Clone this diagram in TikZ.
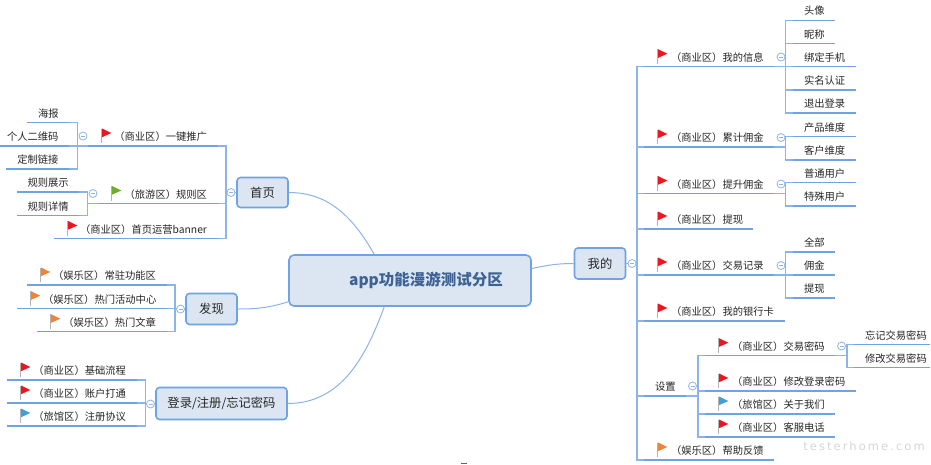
\documentclass[tikz,border=0pt]{standalone}
\usepackage{fontspec}
\setmainfont{Noto Sans CJK SC}
\newfontfamily\wmfont[LetterSpace=18]{DejaVu Sans}
\definecolor{lineblue}{HTML}{6FA3E4}
\definecolor{connblue}{HTML}{8DB4E8}
\definecolor{boxfill}{HTML}{DCE6F2}
\definecolor{rootink}{HTML}{3D6293}
\definecolor{ink}{HTML}{262626}
\definecolor{fred}{HTML}{F0141E}
\definecolor{fgreen}{HTML}{6CAE2A}
\definecolor{forange}{HTML}{EE8438}
\definecolor{fblue}{HTML}{3F9FDA}
\tikzset{
  topic/.style={anchor=south west,inner sep=0pt,outer sep=0pt,minimum height=18.5pt,text=ink,font=\fontsize{10.3}{12}\selectfont},
  uline/.style={draw=lineblue,line width=1.5pt},
  conn/.style={draw=connblue,line width=1.3pt},
  curve/.style={draw=connblue,line width=1pt},
  mainbox/.style={draw=lineblue,line width=1.6pt,fill=boxfill,rounded corners=3.5pt,inner sep=0pt,text=ink,font=\fontsize{12.3}{14}\selectfont},
  rootbox/.style={mainbox,rounded corners=5pt,text=rootink,font=\fontsize{15.5}{18}\selectfont\bfseries},
  fold/.style={circle,draw=connblue,line width=0.8pt,fill=white,minimum size=8pt,inner sep=0pt,outer sep=0pt,
    path picture={\draw[connblue,line width=0.7pt] ([xshift=-2pt]path picture bounding box.center)--([xshift=2pt]path picture bounding box.center);}},
}
% name, x1, x2, y of the underline, text start, text
\newcommand\tp[6]{%
  \pgfmathsetmacro\tw{#3-#2}\pgfmathsetmacro\tq{#5-#2}%
  \node[topic] (#1) at (#2,#4) {\makebox[\tw pt][l]{\hspace*{\tq pt}#6}};
  \draw[uline] (#1.south west) -- (#1.south east);
}
% colour, x, y of the underline
\newcommand\flagat[3]{%
  \begin{scope}[shift={(#2,#3)}]
    \draw[black!30,line width=1.5pt] (0.3,-17.5) -- (0.3,-3);
    \fill[#1] (1,-17.5) -- (10.3,-13) -- (1,-8.8) -- cycle;
  \end{scope}
}
% topic with a flag
\newcommand\ftp[8]{\tp{#1}{#2}{#3}{#4}{#5}{#6}\flagat{#7}{#8}{#4}}
% bracket: parent point, bracket coordinate, child points
\newcommand\brk[3]{%
  \foreach \c in {#3} {\draw[conn] (#1) -- (#1 -| #2) |- (\c);}
}
\begin{document}
\begin{tikzpicture}[x=1pt,y=-1pt]
\useasboundingbox (0,0) rectangle (931,464);
\fill[white] (0,0) rectangle (931,464);

% main boxes
\node[rootbox,minimum width=242pt,minimum height=51pt] (root) at (410,280.5) {\hspace*{32pt}app功能漫游测试分区};
\node[mainbox,minimum width=51pt,minimum height=30pt] (home) at (262.5,192.5) {首页};
\node[mainbox,minimum width=51pt,minimum height=31pt] (find) at (211.5,309) {发现};
\node[mainbox,minimum width=131pt,minimum height=32pt] (login) at (221.5,403.5) {登录/注册/忘记密码};
\node[mainbox,minimum width=51pt,minimum height=31pt] (mine) at (600,263.5) {我的};

\draw[curve] (home.east) to[out=0,in=120] ([xshift=86pt]root.north west);
\draw[curve] (find.east) to[out=0,in=197] ([yshift=5pt]root.south west);
\draw[curve] (login.east) to[out=0,in=-110] ([xshift=96pt]root.south west);
\draw[curve] ([yshift=12pt]root.east) to[out=12,in=180] (mine.west);

% ---- home
\ftp{promo}{88}{218}{146}{114.3}{（商业区）一键推广}{fred}{101}
\tp{poster}{27}{69}{122.5}{38}{海报}
\tp{qrcode}{0}{69}{146}{7}{个人二维码}
\tp{custom}{6}{69}{169}{17.3}{定制链接}
\ftp{rules}{98}{218}{203.5}{124.6}{（旅游区）规则区}{fgreen}{111}
\tp{ruleshow}{17}{79}{192}{27.5}{规则展示}
\tp{ruledetail}{17}{79}{215.5}{27.5}{规则详情}
\ftp{banner}{54}{218}{238.5}{80}{（商业区）首页运营banner}{fred}{67}

\coordinate (bkhome) at (226,0);
\coordinate (bkpromo) at (77.5,0);
\coordinate (bkrules) at (87.5,0);
\brk{home.west}{bkhome}{promo.south east,rules.south east,banner.south east}
\brk{promo.south west}{bkpromo}{poster.south east,qrcode.south east,custom.south east}
\brk{rules.south west}{bkrules}{ruleshow.south east,ruledetail.south east}
\node[fold] (foldhome) at (231,192.5) {};
\node[fold] (foldpromo) at (83,136) {};
\node[fold] (foldrules) at (93,193.5) {};

% ---- find
\ftp{resident}{27}{167}{285}{53}{（娱乐区）常驻功能区}{forange}{40}
\ftp{activity}{17}{167}{308.7}{43}{（娱乐区）热门活动中心}{forange}{30}
\ftp{article}{37}{167}{331.7}{63.3}{（娱乐区）热门文章}{forange}{50}
\coordinate (bkfind) at (175,0);
\brk{find.west}{bkfind}{resident.south east,activity.south east,article.south east}
\node[fold] (foldfind) at (180.5,309) {};

% ---- login
\ftp{basic}{7}{137}{380}{33.3}{（商业区）基础流程}{fred}{20}
\ftp{account}{7}{137}{403}{33.3}{（商业区）账户打通}{fred}{20}
\ftp{protocol}{7}{137}{426}{33.3}{（旅馆区）注册协议}{fblue}{20}
\coordinate (bklogin) at (145.5,0);
\brk{login.west}{bklogin}{basic.south east,account.south east,protocol.south east}
\node[fold] (foldlogin) at (150.5,404) {};

% ---- mine
\ftp{myinfo}{644}{774}{66.7}{671}{（商业区）我的信息}{fred}{657}
\ftp{total}{644}{774}{147}{671}{（商业区）累计佣金}{fred}{657}
\ftp{raise}{644}{774}{193.6}{671}{（商业区）提升佣金}{fred}{657}
\ftp{withdraw}{644}{753}{229}{671}{（商业区）提现}{fred}{657}
\ftp{trade}{644}{774}{275}{671}{（商业区）交易记录}{fred}{657}
\ftp{bank}{644}{785}{321}{671}{（商业区）我的银行卡}{fred}{657}
\tp{settings}{644}{686}{396}{655}{设置}
\ftp{feedback}{644}{774}{460}{671}{（娱乐区）帮助反馈}{forange}{657}
\coordinate (bkmine) at (637,0);
\brk{mine.east}{bkmine}{myinfo.south west,total.south west,raise.south west,withdraw.south west,trade.south west,bank.south west,settings.south west,feedback.south west}
\node[fold] (foldmine) at (632,263.5) {};

\tp{avatar}{793}{835}{20.3}{804}{头像}
\tp{nick}{793}{835}{43.5}{804}{昵称}
\tp{phone}{793}{856}{66.7}{804}{绑定手机}
\tp{realname}{793}{856}{90}{804}{实名认证}
\tp{logout}{793}{856}{113}{804}{退出登录}
\coordinate (bksub) at (785.3,0);
\brk{myinfo.south east}{bksub}{avatar.south west,nick.south west,phone.south west,realname.south west,logout.south west}
\node[fold] (foldinfo) at (781,57) {};

\tp{product}{793}{856}{136.5}{804}{产品维度}
\tp{customer}{793}{856}{160}{804}{客户维度}
\draw[conn] (total.south east) -- (total.south east -| bksub) |- (product.south west);
\draw[conn] (total.south east -| bksub) |- (customer.south west);
\node[fold] (foldtotal) at (781,137.5) {};

\tp{normal}{793}{856}{182.7}{804}{普通用户}
\tp{special}{793}{856}{206}{804}{特殊用户}
\draw[conn] (raise.south east) -- (raise.south east -| bksub) |- (normal.south west);
\draw[conn] (raise.south east -| bksub) |- (special.south west);
\node[fold] (foldraise) at (781,184) {};

\tp{tradeall}{793}{835}{252}{804}{全部}
\tp{tradefee}{793}{835}{275}{804}{佣金}
\tp{tradecash}{793}{835}{298}{804}{提现}
\brk{trade.south east}{bksub}{tradeall.south west,tradefee.south west,tradecash.south west}
\node[fold] (foldtrade) at (781,265.5) {};

% ---- settings
\ftp{paypw}{705}{835}{355.7}{732}{（商业区）交易密码}{fred}{718}
\ftp{loginpw}{705}{856}{391}{732}{（商业区）修改登录密码}{fred}{718}
\ftp{about}{705}{835}{414}{732}{（旅馆区）关于我们}{fblue}{718}
\ftp{service}{705}{835}{437}{732}{（商业区）客服电话}{fred}{718}
\coordinate (bkset) at (698,0);
\brk{settings.south east}{bkset}{paypw.south west,loginpw.south west,about.south west,service.south west}
\node[fold] (foldset) at (692.5,386) {};

\tp{forgetpw}{854}{930}{344.5}{865}{忘记交易密码}
\tp{changepw}{854}{930}{367.5}{865}{修改交易密码}
\coordinate (bkpay) at (847,0);
\brk{paypw.south east}{bkpay}{forgetpw.south west,changepw.south west}
\node[fold] (foldpay) at (841.5,346) {};

% watermark
\node[inner sep=0pt,text=black!16,font=\wmfont\fontsize{11.5}{13}\selectfont] (mark) at (864,446) {testerhome.com};
\draw[black!60,line width=0.8pt] (461,463.6) -- (467,463.6);
\end{tikzpicture}
\end{document}
